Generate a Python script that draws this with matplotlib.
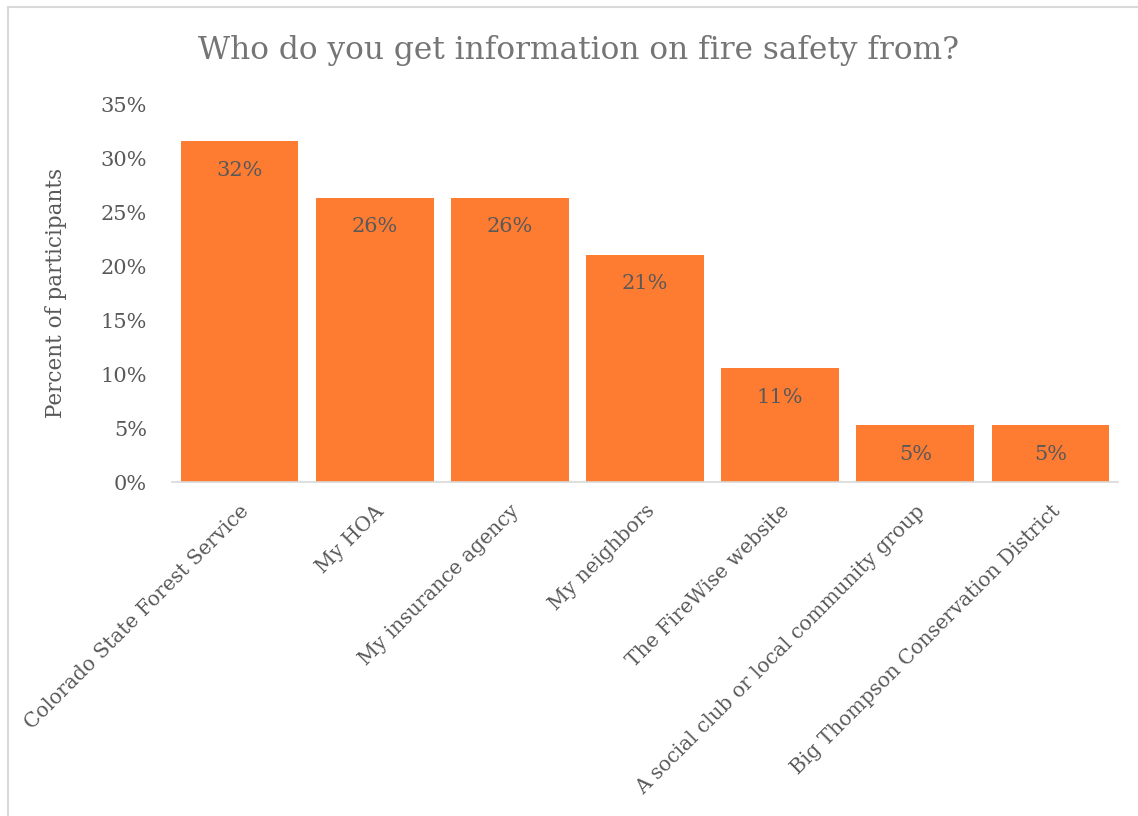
import matplotlib
matplotlib.use("Agg")
import matplotlib.pyplot as plt
from matplotlib.lines import Line2D

categories = ["Colorado State Forest Service", "My HOA", "My insurance agency",
              "My neighbors", "The FireWise website",
              "A social club or local community group",
              "Big Thompson Conservation District"]
values = [31.58, 26.32, 26.32, 21.05, 10.53, 5.26, 5.26]
yticks = [0, 5, 10, 15, 20, 25, 30, 35]

plt.rcParams['font.family'] = ['DejaVu Serif']
fig = plt.figure(figsize=(11.38, 8.16), dpi=100)
ax = fig.add_axes([172/1138, 1-482/816, (1118-172)/1138, (482-104)/816])

x = list(range(len(categories)))
bars = ax.bar(x, values, width=0.87, color='#FE7B32')
ax.set_xlim(-0.5, len(categories)-0.5)
ax.set_ylim(0, 35)
ax.set_yticks(yticks)
ax.set_yticklabels([f"{v}%" for v in yticks], fontsize=15, color='#595959')
ax.set_xticks(x)
ax.set_xticklabels(categories, rotation=45, ha='right', va='top',
                   rotation_mode='anchor', fontsize=14.5, color='#595959')
ax.tick_params(axis='both', length=0)
ax.tick_params(axis='y', pad=18)
ax.tick_params(axis='x', pad=14)
for s in ['top', 'right', 'left']:
    ax.spines[s].set_visible(False)
ax.spines['bottom'].set_color('#D9D9D9')
ax.spines['bottom'].set_linewidth(1.2)

for xi, v in zip(x, values):
    ax.annotate(f"{round(v):.0f}%", (xi, v), xytext=(0, -21), textcoords='offset points',
                ha='center', va='center', fontsize=15, color='#595959')

ax.set_ylabel("Percent of participants", fontsize=15.5, color='#595959', labelpad=24)
fig.text(578/1138, 1-50/816, "Who do you get information on fire safety from?",
         ha='center', va='center', fontsize=22.5, color='#757575')

fig.add_artist(Line2D([8/1138, 1], [1-7/816, 1-7/816], transform=fig.transFigure,
                      color='#D9D9D9', lw=1.5))
fig.add_artist(Line2D([8/1138, 8/1138], [0, 1-7/816], transform=fig.transFigure,
                      color='#D9D9D9', lw=1.5))

fig.savefig("out.png", dpi=100)
